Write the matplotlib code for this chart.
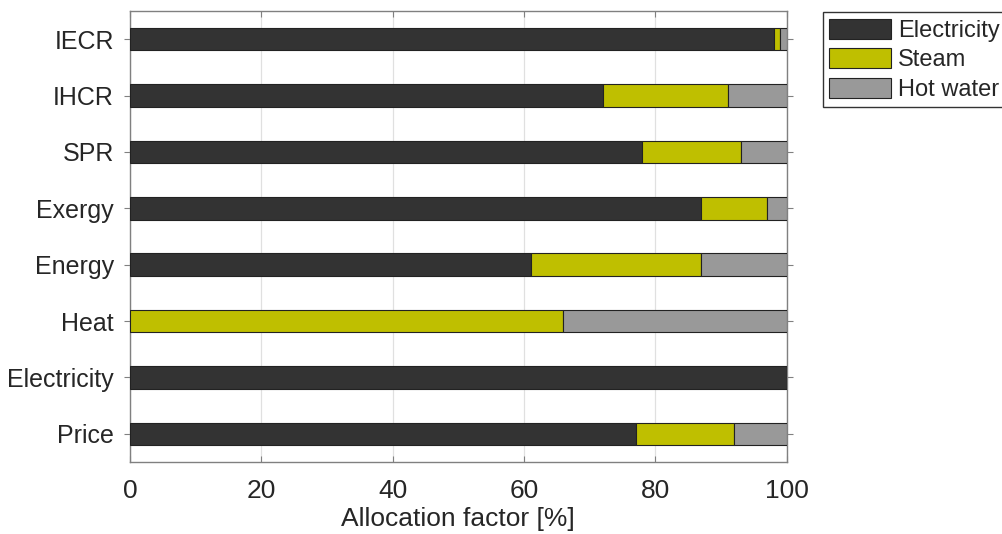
import numpy as np
import matplotlib
matplotlib.use("Agg")
import matplotlib.pyplot as plt

plt.rcParams["font.family"] = ["Liberation Sans", "DejaVu Sans"]

# data (top to bottom)
methods = ["IECR", "IHCR", "SPR", "Exergy", "Energy", "Heat", "Electricity", "Price"]
electricity = [98, 72, 78, 87, 61, 0, 100, 77]
steam = [1, 19, 15, 10, 26, 66, 0, 15]
hot_water = [1, 9, 7, 3, 13, 34, 0, 8]
series_names = ["Electricity", "Steam", "Hot water"]
colors = ["#333333", "#bfbf00", "#999999"]

txt = "#262626"
W, H = 1003, 534
fig = plt.figure(figsize=(W / 100, H / 100), dpi=100)
ax = fig.add_axes([130 / W, 1 - 462 / H, (786.7 - 130) / W, (462 - 11) / H])

y = np.arange(len(methods))
left = np.zeros(len(methods))
for vals, name, c in zip([electricity, steam, hot_water], series_names, colors):
    vals = np.array(vals, dtype=float)
    ax.barh(y, vals, left=left, height=0.4, color=c, edgecolor="#222222",
            linewidth=0.8, label=name, zorder=3)
    left = left + vals

ax.set_xlim(0, 100)
ax.set_ylim(len(methods) - 0.5, -0.5)
ax.set_yticks(y)
ax.set_yticklabels(methods)
ax.set_xticks([0, 20, 40, 60, 80, 100])
ax.grid(axis="x", color="#e0e0e0", linewidth=0.9, zorder=0)
ax.set_axisbelow(True)

for s in ax.spines.values():
    s.set_color("#808080")
    s.set_linewidth(1.0)

ax.tick_params(axis="x", direction="in", top=True, bottom=True, length=4.5,
               width=0.8, color="#808080", labelsize=19, labelcolor=txt, pad=12)
ax.tick_params(axis="y", direction="out", left=True, right=True, length=4.5,
               width=0.8, color="#808080", labelsize=18, labelcolor=txt, pad=7)
ax.set_xlabel("Allocation factor [%]", fontsize=19, color=txt, labelpad=3)

leg = fig.legend(loc="upper left", bbox_to_anchor=(822.7 / W, 1 - 12 / H),
                 fontsize=17, handlelength=2.6, handleheight=0.93,
                 handletextpad=0.3, labelspacing=0.27, borderpad=0.28,
                 borderaxespad=0, fancybox=False, framealpha=1)
leg.get_frame().set_edgecolor("#333333")
leg.get_frame().set_linewidth(1.0)
for t in leg.get_texts():
    t.set_color(txt)

fig.savefig("out.png", dpi=100)
